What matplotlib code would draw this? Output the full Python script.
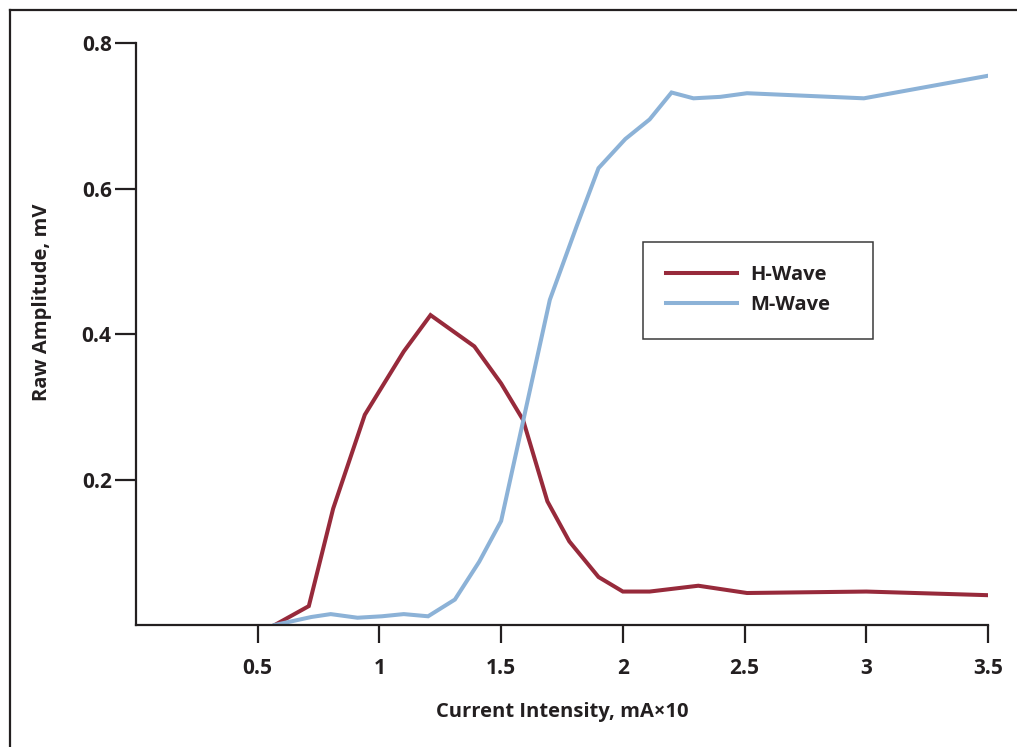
import matplotlib.pyplot as plt
from matplotlib.lines import Line2D
from matplotlib.patches import Rectangle

plt.rcParams['font.family'] = ['Open Sans', 'DejaVu Sans']

# H-reflex recruitment curve
h_current = [0.57, 0.71, 0.81, 0.94, 1.10, 1.21, 1.39, 1.50, 1.59, 1.69, 1.78,
             1.90, 2.0, 2.11, 2.31, 2.51, 3.0, 3.5]
h_amp = [0.0, 0.026, 0.160, 0.289, 0.376, 0.426, 0.383, 0.332, 0.282, 0.170,
         0.115, 0.066, 0.046, 0.046, 0.054, 0.044, 0.046, 0.041]

m_current = [0.57, 0.72, 0.80, 0.91, 1.01, 1.10, 1.20, 1.31, 1.41, 1.50, 1.70,
             1.81, 1.90, 2.01, 2.11, 2.20, 2.29, 2.40, 2.51, 2.99, 3.5]
m_amp = [0.0, 0.011, 0.015, 0.010, 0.012, 0.015, 0.012, 0.035, 0.087, 0.143,
         0.447, 0.548, 0.628, 0.668, 0.695, 0.732, 0.724, 0.726, 0.731, 0.724,
         0.755]

x_ticks = [0.5, 1, 1.5, 2, 2.5, 3, 3.5]
x_tick_labels = ['0.5', '1', '1.5', '2', '2.5', '3', '3.5']
y_ticks = [0.2, 0.4, 0.6, 0.8]

dark = '#231f20'
red = '#972a3b'
blue = '#8cb2d7'

W, H = 1017, 747
fig = plt.figure(figsize=(W / 100, H / 100), dpi=100)
ax = fig.add_axes([0.1337, 0.1633, 0.8378, 0.7791])

ax.plot(h_current, h_amp, color=red, lw=2.9, label='H-Wave', solid_joinstyle='miter')
ax.plot(m_current, m_amp, color=blue, lw=2.9, label='M-Wave', solid_joinstyle='miter')

ax.set_xlim(0, 3.5)
ax.set_ylim(0, 0.8)
ax.set_xticks(x_ticks)
ax.set_xticklabels(x_tick_labels)
ax.set_yticks(y_ticks)

for side in ['top', 'right']:
    ax.spines[side].set_visible(False)
for side in ['left', 'bottom']:
    ax.spines[side].set_linewidth(1.6)
    ax.spines[side].set_color(dark)

ax.tick_params(axis='x', length=13, width=1.6, pad=10.5, color=dark,
               labelsize=15, labelcolor=dark)
ax.tick_params(axis='y', length=15, width=1.6, pad=2.5, color=dark,
               labelsize=15, labelcolor=dark)
for lbl in ax.get_xticklabels() + ax.get_yticklabels():
    lbl.set_fontweight('bold')

ax.set_xlabel('Current Intensity, mA\u00d710', fontsize=14.5, fontweight='bold',
              color=dark, labelpad=17)
ax.set_ylabel('Raw Amplitude, mV', fontsize=14.5, fontweight='bold',
              color=dark, labelpad=40)
ax.yaxis.set_label_coords(-0.099, 0.555)

# legend entries without their own frame; box drawn separately so it can be wider
leg_left, leg_top, leg_right, leg_bottom = 643, 242, 873, 339
leg = ax.legend(loc='upper left',
                bbox_to_anchor=(leg_left / W, 1 - leg_top / H),
                bbox_transform=fig.transFigure, frameon=False,
                handlelength=3.5, handletextpad=0.7, labelspacing=0.47,
                borderpad=1.15, borderaxespad=0,
                prop={'weight': 'bold', 'size': 14.5})
for t in leg.get_texts():
    t.set_color(dark)
fig.add_artist(Rectangle((leg_left / W, 1 - leg_bottom / H),
                         (leg_right - leg_left) / W, (leg_bottom - leg_top) / H,
                         transform=fig.transFigure, fill=False,
                         edgecolor='#3a3a3a', lw=1.1))

# outer frame around the figure
fx = 10 / W
fy = 1 - 10 / H
fig.add_artist(Line2D([fx, fx], [0, fy], transform=fig.transFigure, color=dark, lw=1.6))
fig.add_artist(Line2D([fx, 1], [fy, fy], transform=fig.transFigure, color=dark, lw=1.6))

fig.savefig('out.png', dpi=100)
